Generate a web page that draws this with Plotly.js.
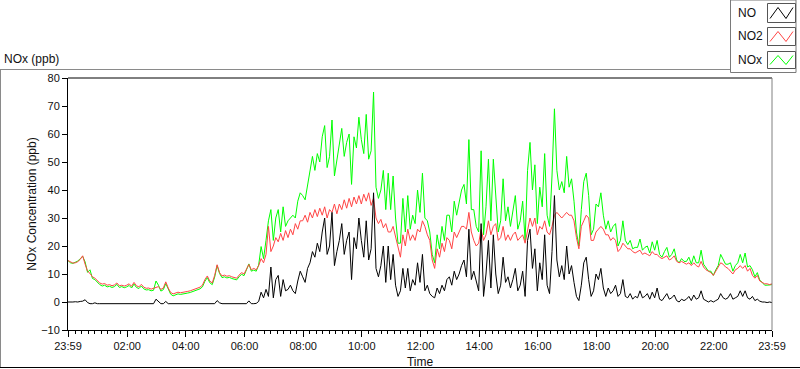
<!DOCTYPE html>
<html>
<head>
<meta charset="utf-8">
<script src="https://cdn.plot.ly/plotly-3.0.1.min.js"></script>
<style>html,body{margin:0;padding:0;background:#fff;}#chart{width:800px;height:369px;}</style>
</head>
<body>
<div id="chart"></div>
<script>
// ---- data (5-minute samples from 23:59 to 23:59) ----
const STEP_MIN = 5;
const seriesNames = ["NO", "NO2", "NOx"];
const xTickVals = [0, 121, 241, 361, 481, 601, 721, 841, 961, 1081, 1201, 1321, 1440];
const xTickText = ["23:59", "02:00", "04:00", "06:00", "08:00", "10:00", "12:00", "14:00", "16:00", "18:00", "20:00", "22:00", "23:59"];

const no = [
  0, -0.1, 0, 0.1, 0, 0.2, 0.3, 0.8, -0.2, -0.6, -0.6, -0.3,
  -0.6, -0.6, -0.6, -0.5, -0.6, -0.6, -0.5, -0.6, -0.4, -0.6, -0.6, -0.6,
  -0.6, -0.6, -0.6, -0.4, -0.6, -0.6, -0.6, -0.5, -0.6, -0.6, -0.6, -0.6,
  1.0, 0.3, -0.6, -0.6, 0.2, -0.6, -0.6, -0.6, -0.6, -0.6, -0.6, -0.6,
  -0.6, -0.6, -0.6, -0.6, -0.6, -0.6, -0.6, -0.6, -0.5, -0.6, -0.6, -0.6,
  -0.6, 0.5, -0.3, -0.6, -0.6, -0.6, -0.6, -0.6, -0.6, -0.6, -0.6, -0.6,
  -0.6, -0.6, 0.4, -0.6, -0.6, -0.5, 0.2, 3.5, 1.5, 4.5, 2.0, 12.5,
  1.5, 8, 9.5, 2, 8, 4, 4.5, 6, 4, 3, 7.5, 11,
  9, 7, 12, 14, 18, 16, 21, 18, 25, 30, 17, 20,
  32, 13, 18, 22, 28, 17, 22, 25, 8, 23, 19, 30,
  22, 16, 29, 15, 19, 39, 12, 9, 13, 20, 7, 20,
  8, 17, 6, 2, 4, 12, 5, 12, 4, 8, 6, 14,
  7, 17, 4, 6, 3, 2, 1.5, 5, 3, 6, 4, 8,
  9, 6, 11, 8, 10, 13, 15, 9, 26, 8, 11, 7,
  4, 28, 2, 10, 22, 5, 24, 10, 3, 6, 16, 7,
  9, 5, 8, 12, 4, 6, 11, 2, 22, 26, 12, 19,
  4, 14, 8, 24, 6, 3, 18, 38, 15, 9, 13, 8,
  20, 10, 13, 7, 2, 0.5, 6, 14, 16, 8, 2, 4,
  10, 8, 12, 5, 2, 5, 3, 4, 6, 2, 3, 8,
  2, 1.5, 3, 1, 2, 1.5, 4, 1.5, 2, 3, 1, 3.5,
  1.5, 5, 1, 0.5, 2, 3, 1, 1.5, 2.5, 0.5, 0, 1,
  0.5, 1, 2, 0.5, 2.5, 1, 1.5, 4, 1, 0.5, 0, 0.5,
  0, 0.5, 1, 3, 1.5, 1, 1.5, 3, 1, 1.5, 2, 4,
  2, 4, 1.5, 1, 2, 0.5, 1, 0.3, 0, 0, -0.2, 0,
  -0.2
];

const no2 = [
  14.8, 14.2, 13.9, 14.0, 14.4, 15.2, 16.5, 13.5, 11.0, 10.2, 9.0, 8.5,
  7.6, 6.8, 6.4, 6.6, 6.0, 6.2, 5.8, 6.1, 6.8, 5.8, 6.0, 5.7,
  6.0, 6.5, 5.6, 7.0, 5.8, 5.4, 6.3, 5.3, 4.9, 5.0, 4.6, 4.8,
  5.2, 5.5, 4.5, 5.0, 7.2, 5.0, 3.4, 2.9, 3.3, 3.5, 3.3, 3.4,
  3.6, 3.8, 4.0, 4.3, 4.5, 5.0, 5.3, 6.0, 8.0, 9.3, 7.5, 6.8,
  9.5, 13.3, 10.5, 9.3, 9.6, 9.2, 9.4, 9.0, 8.8, 8.5, 9.6, 10.5,
  10.0, 12.0, 13.4, 11.5, 12.0, 11.5, 13.0, 15.5, 14.0, 17.0, 27.0, 18.0,
  20, 23, 21.5, 24.5, 22, 25.5, 23, 26, 24, 28, 26, 29,
  29, 31, 28.5, 32, 30, 33, 30.5, 33.5, 31, 34, 30, 33,
  32, 35, 31.5, 35, 33, 36.5, 33.5, 37, 34, 37.5, 35, 38,
  35, 38.5, 36, 39, 34.5, 37, 30, 28, 29.5, 26.5, 28, 25,
  25, 27, 23, 19, 16, 24, 20, 26, 22, 24, 22, 26,
  25, 29, 27, 24, 22, 15, 12, 19, 16, 21, 18, 23,
  22, 19, 25, 23, 25, 27, 27, 26, 32, 25, 22, 20,
  21, 26, 22, 24, 29, 24, 27, 28, 22, 23, 27, 22,
  24, 22, 24, 25, 22, 23, 24, 21, 25, 30, 27, 30,
  24, 27, 26, 29, 25, 24, 27, 31, 32, 31, 30, 31,
  32, 31, 31, 29, 23, 19, 27, 29, 31, 30, 22, 22,
  25, 26, 27, 26, 24, 24, 22, 23, 22, 18, 19, 21,
  20, 19, 19, 18, 17.5, 18, 18.5, 17, 17.5, 17, 16.5, 18,
  17, 17, 16, 15.5, 16, 16.5, 15, 15.5, 16.5, 14.5, 14, 14.5,
  14, 13.5, 14, 13, 14, 13, 12.5, 14.5, 12.5, 11.5, 11, 10.5,
  9.5, 11, 12, 14, 13.5, 12.5, 12, 11, 10, 11.5, 12, 13,
  12, 13, 11, 12, 9.5, 8.5, 9.5, 7.5, 7, 6.5, 6.5, 6.2,
  6.5
];

const nox = [
  14.8, 14.0, 13.8, 14.2, 14.6, 15.5, 16.3, 14.3, 10.6, 11.5, 8.4, 8.0,
  7.0, 6.2, 5.7, 6.0, 5.4, 5.6, 5.2, 5.5, 6.3, 5.2, 5.5, 5.1,
  5.4, 5.9, 5.0, 6.4, 5.2, 4.8, 5.7, 4.7, 4.3, 4.4, 4.0, 4.2,
  7.5, 6.0, 3.9, 4.4, 6.6, 4.4, 2.8, 2.2, 2.7, 2.9, 2.7, 2.8,
  3.0, 3.2, 3.4, 3.7, 3.9, 4.4, 4.7, 5.4, 7.4, 8.7, 6.9, 6.2,
  8.9, 13.0, 10.2, 8.7, 9.0, 8.6, 8.8, 8.4, 8.2, 7.9, 9.0, 9.9,
  9.4, 11.4, 13.6, 11.0, 11.4, 11.0, 13.2, 19.8, 15.5, 22.0, 29.0, 33.0,
  22, 30, 33, 25, 34, 27, 29, 30, 31, 30, 36, 39,
  38, 36.5, 42, 46, 52, 47, 53, 50, 59, 63, 48, 52,
  65, 45, 51, 56, 62, 52, 57, 60, 42, 59, 55, 66,
  58, 53, 67, 51, 54, 75, 41, 37, 40, 47, 33, 46,
  33, 45, 30, 21, 21, 37, 25, 38, 26, 31, 28, 40,
  32, 46, 30, 29, 25, 17, 14, 24, 19, 27, 22, 31,
  31, 25, 36, 31, 35, 40, 42, 35, 58, 33, 33, 27,
  25, 54, 24, 34, 51, 29, 51, 38, 25, 29, 44, 29,
  34, 27, 32, 38, 26, 29, 36, 22, 47, 57, 40, 49,
  28, 41, 34, 53, 31, 27, 45, 69, 47, 40, 43, 39,
  52, 41, 44, 36, 25, 20, 33, 43, 46, 38, 24, 26,
  35, 34, 39, 31, 26, 29, 25, 27, 28, 20, 22, 29,
  22, 20.5, 22, 19, 19.5, 19.5, 22.5, 18.5, 19.5, 20, 17.5, 21.5,
  18.5, 22, 17, 16, 18, 19.5, 16, 17, 19, 15, 14, 15.5,
  14.5, 14.5, 16, 13.5, 16.5, 14, 14, 18.5, 13.5, 12, 11, 11,
  9.5, 11.5, 13, 17, 15, 13.5, 13.5, 14, 11, 13, 14, 17,
  14, 17.5, 12.5, 13, 11.5, 9, 10.5, 7.8, 7, 6, 6, 6,
  6.2
];

const minutes = no.map((_, i) => i * STEP_MIN);

// ---- layout helpers (pixel -> paper) ----
const W = 800, H = 369;
const PL = 68, PR = 772, PT = 78, PB = 330;
const px = x => (x - PL) / (PR - PL);
const py = y => (PB - y) / (PB - PT);

const colors = ["#000000", "#ff4444", "#00ff00"];
const fontFam = "'Liberation Sans', Arial, sans-serif";

const traces = [
  {x: minutes, y: nox, name: seriesNames[2], mode: "lines", line: {color: colors[2], width: 1}},
  {x: minutes, y: no2, name: seriesNames[1], mode: "lines", line: {color: colors[1], width: 1}},
  {x: minutes, y: no, name: seriesNames[0], mode: "lines", line: {color: colors[0], width: 1}}
];

const shapes = [
  {type: "line", xref: "paper", yref: "paper", x0: 0, x1: 1, y0: 1, y1: 1, line: {color: "#000", width: 1}},
  {type: "line", xref: "paper", yref: "paper", x0: 1, x1: 1, y0: 0, y1: 1, line: {color: "#808080", width: 1}},
  {type: "line", xref: "paper", yref: "paper", x0: px(0), x1: px(730), y0: py(69.5), y1: py(69.5), line: {color: "#8a8a8a", width: 1}},
  {type: "line", xref: "paper", yref: "paper", x0: px(0.5), x1: px(0.5), y0: py(69.5), y1: py(368), line: {color: "#8a8a8a", width: 1}},
  {type: "line", xref: "paper", yref: "paper", x0: px(0), x1: px(800), y0: py(367.5), y1: py(367.5), line: {color: "#000", width: 1}},
  {type: "rect", xref: "paper", yref: "paper", x0: px(730.5), x1: px(796), y0: py(0), y1: py(72.5), line: {color: "#7a7a7a", width: 1}, fillcolor: "#fff"}
];

const annotations = [];
const legRows = [
  {name: seriesNames[0], color: colors[0], top: 3.5, bot: 22.5, ty: 13},
  {name: seriesNames[1], color: colors[1], top: 27.5, bot: 45.5, ty: 36},
  {name: seriesNames[2], color: colors[2], top: 51.5, bot: 68.5, ty: 60}
];
legRows.forEach(r => {
  shapes.push({type: "rect", xref: "paper", yref: "paper", x0: px(767.5), x1: px(795.5), y0: py(r.bot), y1: py(r.top),
    line: {color: "#555", width: 1}, fillcolor: "#fff"});
  const lo = py(r.bot - 4), hi = py(r.top + 4);
  const path = `M ${px(770)} ${lo} L ${px(778)} ${hi} L ${px(786)} ${lo} L ${px(793)} ${hi}`;
  shapes.push({type: "path", xref: "paper", yref: "paper", path: path, line: {color: r.color, width: 1}});
  annotations.push({xref: "paper", yref: "paper", x: px(736), y: py(r.ty), xanchor: "left", yanchor: "middle",
    text: r.name, showarrow: false, font: {family: fontFam, size: 12, color: "#111"}});
});

const layout = {
  width: W, height: H,
  margin: {l: PL, r: W - PR, t: PT, b: H - PB, pad: 0},
  paper_bgcolor: "#fff", plot_bgcolor: "#fff",
  showlegend: false,
  hovermode: false,
  title: {text: "NOx (ppb)", x: 4 / W, xanchor: "left", xref: "container", y: 1 - 59 / H, yanchor: "middle", yref: "container",
    font: {family: fontFam, size: 12, color: "#111"}},
  xaxis: {
    range: [0, 1440], tickmode: "array", tickvals: xTickVals, ticktext: xTickText,
    ticks: "outside", ticklen: 6, tickwidth: 1, tickcolor: "#000",
    showline: true, linecolor: "#000", linewidth: 1, showgrid: false, zeroline: false,
    tickfont: {family: fontFam, size: 11, color: "#111"},
    minor: {ticks: "outside", ticklen: 3, tickwidth: 1, tickcolor: "#000", tick0: 1, dtick: 120 / 9, showgrid: false},
    title: {text: "Time", standoff: 7, font: {family: fontFam, size: 12, color: "#111"}}
  },
  yaxis: {
    range: [-10, 80], dtick: 10, tick0: 0,
    ticks: "outside", ticklen: 5, tickwidth: 1, tickcolor: "#000",
    showline: true, linecolor: "#000", linewidth: 1, showgrid: false, zeroline: false,
    tickfont: {family: fontFam, size: 11, color: "#111"},
    title: {text: "NOx Concentration (ppb)", standoff: 1, font: {family: fontFam, size: 12, color: "#111"}}
  },
  shapes: shapes,
  annotations: annotations
};

Plotly.newPlot("chart", traces, layout, {displayModeBar: false, staticPlot: true});
</script>
</body>
</html>
